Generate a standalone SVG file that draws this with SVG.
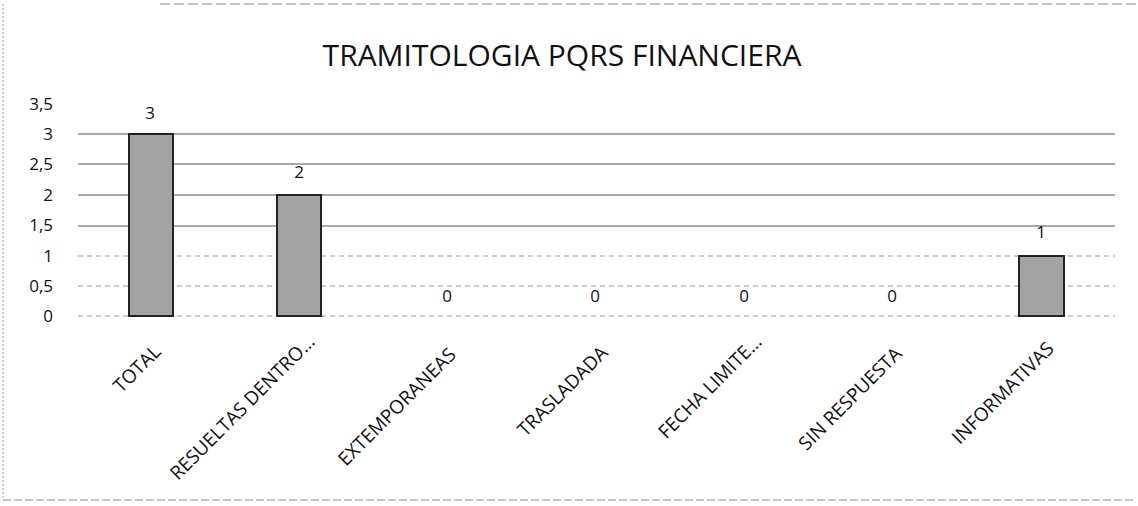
<svg xmlns="http://www.w3.org/2000/svg" width="1138" height="506" viewBox="0 0 1138 506">
<style>
.t{font-family:"Open Sans","Liberation Sans",sans-serif;fill:#111}
.ax{font-size:17px;text-anchor:end}
.v{font-size:17px;text-anchor:middle}
.cat{font-size:19px;text-anchor:end}
.g{stroke:#555;stroke-width:1}
.gl{stroke:#999;stroke-width:1;stroke-dasharray:5 4}
.bar{fill:#a3a3a3;stroke:#222;stroke-width:2}
</style>
<rect x="0" y="0" width="1138" height="506" fill="#fff"/>
<g id="frame">
<line x1="3" y1="4" x2="3" y2="500" stroke="#999" stroke-dasharray="2 2"/>
<line x1="3" y1="500" x2="1136" y2="500" stroke="#888" stroke-dasharray="8 3"/>
<line x1="160" y1="4" x2="1136" y2="4" stroke="#888" stroke-dasharray="10 4"/>
</g>
<text id="title" class="t" x="562" y="66" font-size="30" text-anchor="middle">TRAMITOLOGIA PQRS FINANCIERA</text>
<g id="axis">
<text class="t ax" x="53" y="110">3,5</text>
<text class="t ax" x="53" y="140">3</text>
<text class="t ax" x="53" y="170">2,5</text>
<text class="t ax" x="53" y="201">2</text>
<text class="t ax" x="53" y="231">1,5</text>
<text class="t ax" x="53" y="262">1</text>
<text class="t ax" x="53" y="292">0,5</text>
<text class="t ax" x="53" y="322">0</text>
</g>
<g id="gridlines">
<line class="g" x1="78" y1="134" x2="1115" y2="134"/>
<line class="g" x1="78" y1="164" x2="1115" y2="164"/>
<line class="g" x1="78" y1="195" x2="1115" y2="195"/>
<line class="g" x1="78" y1="226" x2="1115" y2="226"/>
<line class="gl" x1="78" y1="256" x2="1115" y2="256"/>
<line class="gl" x1="78" y1="286" x2="1115" y2="286"/>
<line class="gl" x1="78" y1="316" x2="1115" y2="316"/>
</g>
<g id="bar-total"><rect class="bar" x="129" y="134" width="44" height="182"/><text class="t v" x="150" y="119">3</text></g>
<g id="bar-resueltas"><rect class="bar" x="277" y="195" width="44" height="121"/><text class="t v" x="299" y="178">2</text></g>
<g id="bar-extemporaneas"><text class="t v" x="447" y="302">0</text></g>
<g id="bar-trasladada"><text class="t v" x="595" y="302">0</text></g>
<g id="bar-fecha"><text class="t v" x="744" y="302">0</text></g>
<g id="bar-sin"><text class="t v" x="892" y="302">0</text></g>
<g id="bar-informativas"><rect class="bar" x="1019" y="256" width="45" height="60"/><text class="t v" x="1041" y="238">1</text></g>
<g id="categories">
<text class="t cat" transform="translate(162,353) rotate(-45)">TOTAL</text>
<text class="t cat" transform="translate(316,343) rotate(-45)">RESUELTAS DENTRO…</text>
<text class="t cat" transform="translate(457,356) rotate(-45)">EXTEMPORANEAS</text>
<text class="t cat" transform="translate(609,354) rotate(-45)">TRASLADADA</text>
<text class="t cat" transform="translate(763,343) rotate(-45)">FECHA LIMITE…</text>
<text class="t cat" transform="translate(903,355) rotate(-45)">SIN RESPUESTA</text>
<text class="t cat" transform="translate(1055,350) rotate(-45)">INFORMATIVAS</text>
</g>
</svg>
